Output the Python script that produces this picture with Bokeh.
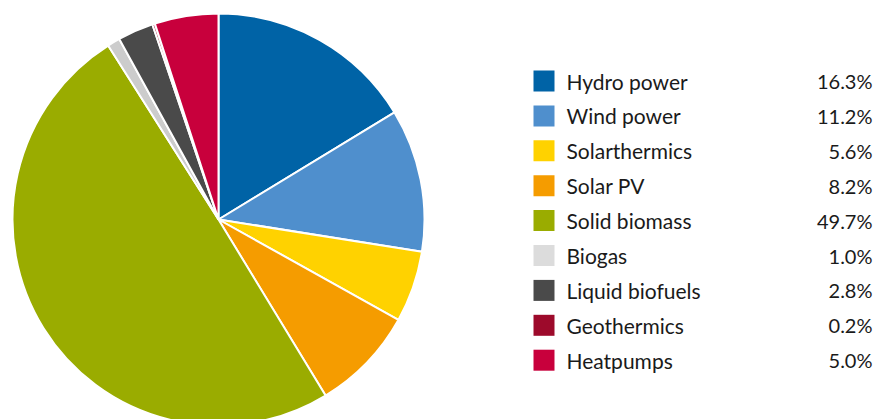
import math
from bokeh.plotting import figure
from bokeh.models import ColumnDataSource, Range1d
from bokeh.core.properties import value
from bokeh.embed import file_html
from bokeh.resources import INLINE

categories = ["Hydro power", "Wind power", "Solarthermics", "Solar PV", "Solid biomass",
              "Biogas", "Liquid biofuels", "Geothermics", "Heatpumps"]
shares = [16.3, 11.2, 5.6, 8.2, 49.7, 1.0, 2.8, 0.2, 5.0]
labels = ["16.3%", "11.2%", "5.6%", "8.2%", "49.7%", "1.0%", "2.8%", "0.2%", "5.0%"]
colors = ["#0063a6", "#4f8fcd", "#ffd200", "#f59c00", "#9aac00",
          "#cccccc", "#4a4a4a", "#9d0a2b", "#c8003c"]

W, H = 875, 419
p = figure(width=W, height=H, output_backend="svg", toolbar_location=None,
           x_range=Range1d(0, W), y_range=Range1d(0, H), min_border=0)
p.axis.visible = False
p.grid.visible = False
p.outline_line_color = None
p.background_fill_color = "white"

total = sum(shares)
starts, ends = [], []
cum = 0.0
for s in shares:
    starts.append(math.pi / 2 - 2 * math.pi * cum / total)
    cum += s
    ends.append(math.pi / 2 - 2 * math.pi * cum / total)

cx, cy, r = 218, H - 219, 206
src = ColumnDataSource(dict(start=starts, end=ends, color=colors, cat=categories))
p.wedge(x=cx, y=cy, radius=r, start_angle="start", end_angle="end", direction="clock",
        fill_color="color", line_color="white", line_width=2, source=src)

row0 = H - 80.5
step = 34.9
ys = [row0 - i * step for i in range(len(categories))]
legend_colors = list(colors)
legend_colors[5] = "#dcdcdc"
lsrc = ColumnDataSource(dict(y=ys, color=legend_colors, cat=categories, lab=labels))
p.rect(x=543.5, y="y", width=21, height=21, fill_color="color", line_color=None, source=lsrc)
p.text(x=566, y="y", text="cat", text_font=value("Lato"), text_font_size="21px",
       text_color="#1a1a1a", text_baseline="middle", text_align="left", source=lsrc)
p.text(x=872, y="y", text="lab", text_font=value("Lato"), text_font_size="20px",
       text_color="#1a1a1a", text_baseline="middle", text_align="right", source=lsrc)

open("out.html", "w").write(file_html(p, INLINE))
